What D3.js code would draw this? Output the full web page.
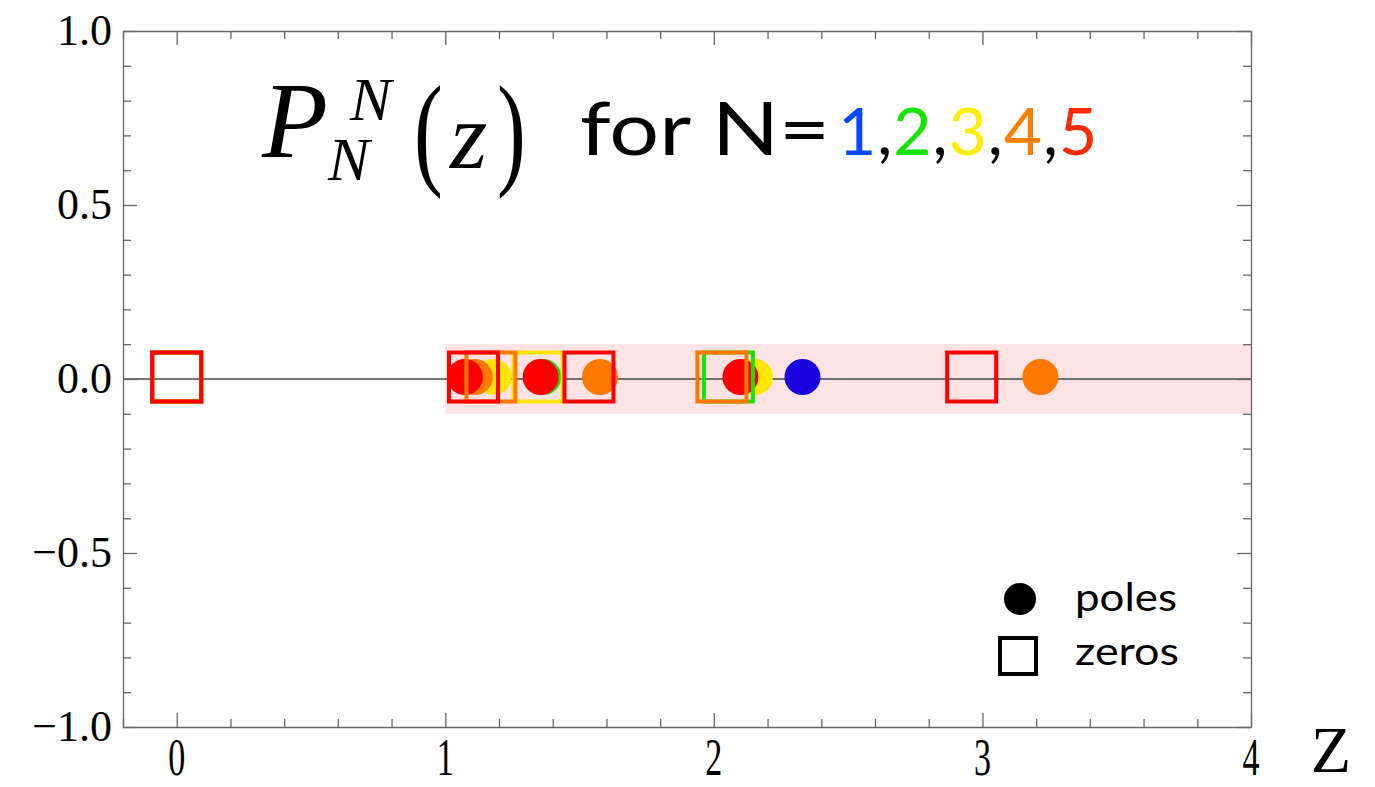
<!DOCTYPE html>
<html>
<head>
<meta charset="utf-8">
<script src="https://cdn.jsdelivr.net/npm/d3@7"></script>
<style>
  html, body { margin: 0; padding: 0; background: #fff; }
  svg { display: block; }
</style>
</head>
<body>
<svg id="chart" width="1375" height="787"></svg>
<script>
// Orders of the diagonal Padé approximants and their colours
const orders = [1, 2, 3, 4, 5];
const orderColors = ["#1a00dc", "#14e400", "#ffe600", "#ff7800", "#ff0000"];
const titleColors = ["#0a45ff", "#14e400", "#ffee00", "#ff8000", "#ff2a00"];

// Poles (filled discs) on the real axis, per order N
const polesN1 = [2.33];
const polesN2 = [1.365];
const polesN3 = [1.18, 2.153];
const polesN4 = [1.11, 1.576, 3.216];
const polesN5 = [1.073, 1.355, 2.099];

// Zeros (open squares) on the real axis, per order N
const zerosN1 = [0];
const zerosN2 = [0, 2.054];
const zerosN3 = [0, 1.346];
const zerosN4 = [0, 1.17, 2.03];
const zerosN5 = [0, 1.105, 1.535, 2.96];

// Shaded strip: Re z in [1, 4], |Im z| <= 0.1
const stripX = [1, 4];
const stripY = [-0.1, 0.1];

// Axis ticks
const xMajor = [0, 1, 2, 3, 4];
const xTickLabels = ["0", "1", "2", "3", "4"];
const yMajor = [-1, -0.5, 0, 0.5, 1];
const yTickLabels = ["\u22121.0", "\u22120.5", "0.0", "0.5", "1.0"];

const polesByOrder = [polesN1, polesN2, polesN3, polesN4, polesN5];
const zerosByOrder = [zerosN1, zerosN2, zerosN3, zerosN4, zerosN5];

const svg = d3.select("#chart");
const plot = { left: 123, right: 1251, top: 31, bottom: 727 };

const x = d3.scaleLinear().domain([-0.2, 4]).range([plot.left, plot.right]);
const y = d3.scaleLinear().domain([-1, 1]).range([plot.bottom, plot.top]);

// shaded strip
svg.append("rect")
  .attr("x", x(stripX[0]))
  .attr("y", y(stripY[1]))
  .attr("width", x(stripX[1]) - x(stripX[0]))
  .attr("height", y(stripY[0]) - y(stripY[1]))
  .attr("fill", "#fde3e3");

// real axis line
svg.append("line")
  .attr("x1", plot.left).attr("x2", plot.right)
  .attr("y1", y(0)).attr("y2", y(0))
  .attr("stroke", "#444").attr("stroke-width", 1.4);

// frame with inward ticks on every side
const frameColor = "#666";
const xMinor = d3.range(-0.2, 4.0001, 0.2).map(v => +v.toFixed(2));
const yMinor = d3.range(-1, 1.0001, 0.1).map(v => +v.toFixed(2));
const isMajor = (v, list) => list.some(m => Math.abs(m - v) < 1e-6);

function addAxis(axisFn, scale, ticks, majors, transform, major, minor) {
  const g = svg.append("g").attr("transform", transform);
  g.call(axisFn(scale).tickValues(ticks).tickFormat("").tickSizeOuter(0)
    .tickSizeInner(0));
  g.selectAll(".tick line").each(function(d) {
    const len = isMajor(d, majors) ? major : minor;
    const el = d3.select(this);
    if (axisFn === d3.axisBottom) el.attr("y2", -len);
    if (axisFn === d3.axisTop) el.attr("y2", len);
    if (axisFn === d3.axisLeft) el.attr("x2", len);
    if (axisFn === d3.axisRight) el.attr("x2", -len);
  });
  g.selectAll("line, path").attr("stroke", frameColor).attr("stroke-width", 1.3);
  return g;
}
addAxis(d3.axisBottom, x, xMinor, xMajor, `translate(0,${plot.bottom})`, 14, 8);
addAxis(d3.axisTop, x, xMinor, xMajor, `translate(0,${plot.top})`, 14, 8);
addAxis(d3.axisLeft, y, yMinor, yMajor, `translate(${plot.left},0)`, 14, 8);
addAxis(d3.axisRight, y, yMinor, yMajor, `translate(${plot.right},0)`, 14, 8);

// tick labels
const serif = "'Liberation Serif', 'Times New Roman', serif";
svg.append("g").selectAll("text").data(xMajor).join("text")
  .attr("transform", d => `translate(${x(d)},775) scale(0.85,1.3)`)
  .attr("text-anchor", "middle")
  .attr("font-family", serif).attr("font-size", 40)
  .text((d, i) => xTickLabels[i]);
svg.append("g").selectAll("text").data(yMajor).join("text")
  .attr("x", 112).attr("y", d => y(d) + 14)
  .attr("text-anchor", "end")
  .attr("font-family", serif).attr("font-size", 44)
  .text((d, i) => yTickLabels[i]);

// axis name
svg.append("text").attr("x", 1331).attr("y", 772)
  .attr("text-anchor", "middle")
  .attr("font-family", serif).attr("font-size", 66)
  .text("Z");

// poles first, then zeros, lower orders underneath
const poleR = 18, zeroSide = 49;
orders.forEach((n, i) => {
  svg.append("g").selectAll("circle").data(polesByOrder[i]).join("circle")
    .attr("cx", d => x(d)).attr("cy", y(0) - 2)
    .attr("r", poleR).attr("fill", orderColors[i]);
});
orders.forEach((n, i) => {
  svg.append("g").selectAll("rect").data(zerosByOrder[i]).join("rect")
    .attr("x", d => x(d) - zeroSide / 2).attr("y", y(0) - 2 - zeroSide / 2)
    .attr("width", zeroSide).attr("height", zeroSide)
    .attr("fill", "none").attr("stroke", orderColors[i]).attr("stroke-width", 4);
});

// title: P_N^N(z) for N=1,2,3,4,5
const title = svg.append("g");
const mathFont = serif;
title.append("text").attr("x", 262).attr("y", 157)
  .attr("font-family", mathFont).attr("font-style", "italic").attr("font-size", 108)
  .text("P");
title.append("text").attr("x", 350).attr("y", 120)
  .attr("font-family", mathFont).attr("font-style", "italic").attr("font-size", 62)
  .text("N");
title.append("text").attr("x", 328).attr("y", 180)
  .attr("font-family", mathFont).attr("font-style", "italic").attr("font-size", 62)
  .text("N");
title.append("text").attr("transform", "translate(414,172) scale(0.8,1.15)")
  .attr("font-family", mathFont).attr("font-size", 108)
  .text("(");
title.append("text").attr("x", 450).attr("y", 168)
  .attr("font-family", mathFont).attr("font-style", "italic").attr("font-size", 96)
  .text("z");
title.append("text").attr("transform", "translate(497,172) scale(0.8,1.15)")
  .attr("font-family", mathFont).attr("font-size", 108)
  .text(")");

const sans = "Lato, 'Open Sans', sans-serif";
title.append("text").attr("x", 580).attr("y", 155)
  .attr("font-family", sans).attr("font-size", 74)
  .attr("textLength", 250).attr("lengthAdjust", "spacingAndGlyphs")
  .text("for N=");

// the list of orders, each glyph its own text, spread across the title's tail
const tokens = [];
orders.forEach((n, i) => {
  tokens.push({ t: String(n), c: titleColors[i] });
  if (i < orders.length - 1) tokens.push({ t: ",", c: "#000" });
});
const numStart = 838, numEnd = 1090;
const tokenEls = tokens.map(tok => title.append("text").attr("y", 155)
  .attr("font-family", sans).attr("font-size", 66)
  .attr("fill", tok.c).text(tok.t));
const widths = tokenEls.map(el => el.node().getComputedTextLength());
const gap = Math.max(1, (numEnd - numStart - d3.sum(widths)) / (tokens.length - 1));
let cursor = numStart;
tokenEls.forEach((el, i) => { el.attr("x", cursor); cursor += widths[i] + gap; });

// legend
const legend = svg.append("g");
legend.append("circle").attr("cx", 1020).attr("cy", 599).attr("r", 16).attr("fill", "#000");
legend.append("rect").attr("x", 1000).attr("y", 638).attr("width", 36).attr("height", 36)
  .attr("fill", "none").attr("stroke", "#000").attr("stroke-width", 4);
legend.append("text").attr("x", 1075).attr("y", 611)
  .attr("font-family", sans).attr("font-size", 38)
  .attr("textLength", 102).attr("lengthAdjust", "spacingAndGlyphs").text("poles");
legend.append("text").attr("x", 1075).attr("y", 665)
  .attr("font-family", sans).attr("font-size", 38)
  .attr("textLength", 104).attr("lengthAdjust", "spacingAndGlyphs").text("zeros");
</script>
</body>
</html>
